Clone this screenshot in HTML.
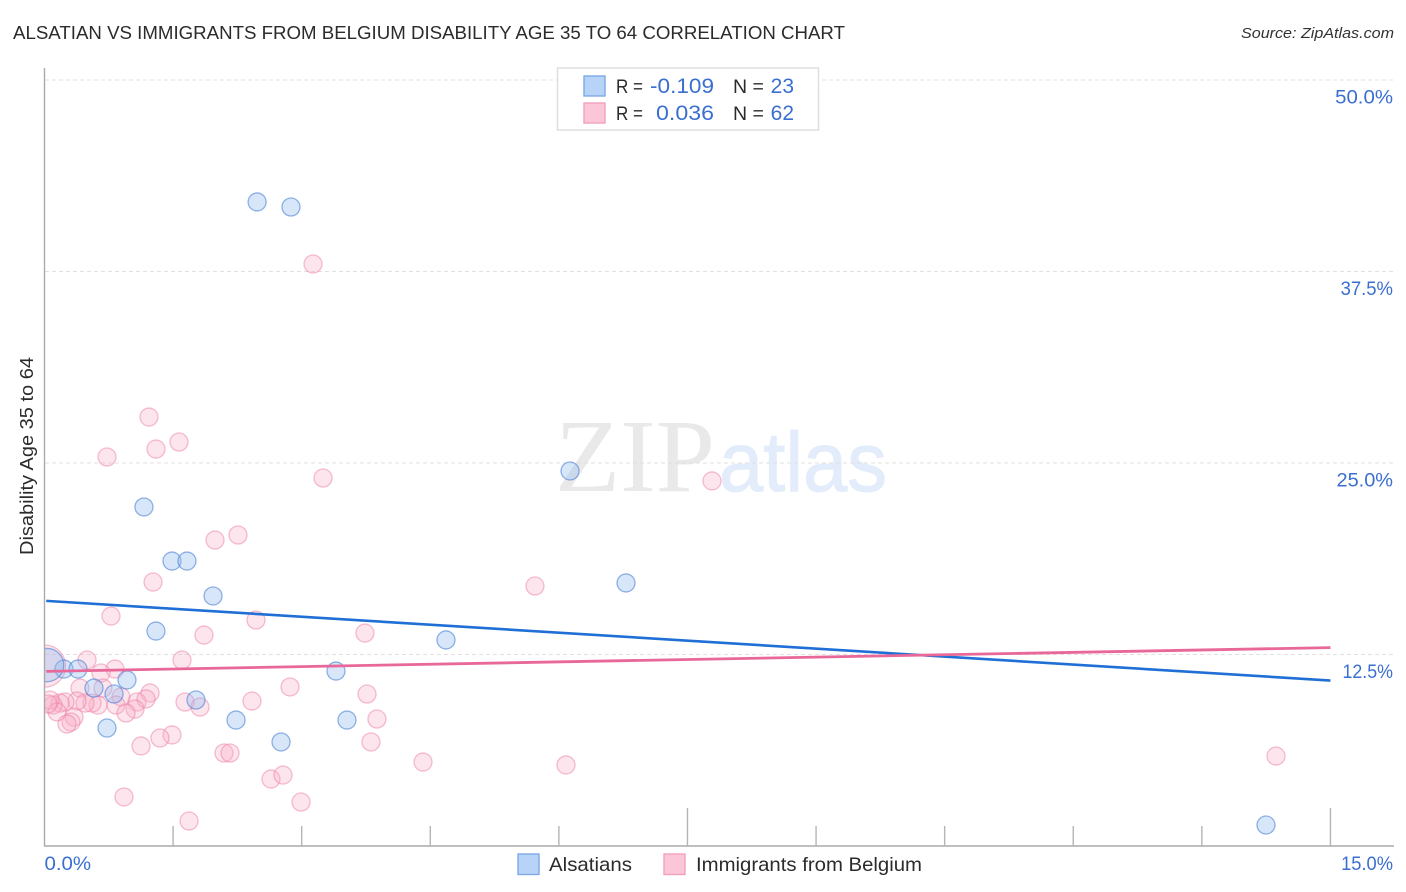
<!DOCTYPE html>
<html lang="en">
<head>
<meta charset="utf-8">
<title>Alsatian vs Immigrants from Belgium Disability Age 35 to 64 Correlation Chart</title>
<style>
html,body{margin:0;padding:0;background:#fff;width:1406px;height:892px;overflow:hidden}
svg{display:block;font-family:"Liberation Sans",sans-serif}
</style>
</head>
<body>
<svg id="chart" xmlns="http://www.w3.org/2000/svg" width="1406" height="892" viewBox="0 0 1406 892">
  <rect x="0" y="0" width="1406" height="892" fill="#ffffff"/>
  <text x="13" y="39" font-size="18.5" fill="#2b2b2b" textLength="832" lengthAdjust="spacingAndGlyphs">ALSATIAN VS IMMIGRANTS FROM BELGIUM DISABILITY AGE 35 TO 64 CORRELATION CHART</text>
  <text x="1241" y="38" font-size="15" font-style="italic" fill="#333333" textLength="153" lengthAdjust="spacingAndGlyphs">Source: ZipAtlas.com</text>

  <g>
    <text x="555" y="491" font-family="'Liberation Serif',serif" font-size="104" fill="#e9e9e9" textLength="160" lengthAdjust="spacingAndGlyphs">ZIP</text>
    <text x="719" y="491" font-size="84" fill="#e3ecfa" stroke="#e3ecfa" stroke-width="1" textLength="168" lengthAdjust="spacingAndGlyphs">atlas</text>
  </g>

  <g id="grid-layer"></g>
  <svg id="point-layer" x="45" y="60" width="1349" height="786" viewBox="45 60 1349 786" overflow="hidden"></svg>
  <g id="trend-layer"></g>

  <line x1="44.5" y1="68" x2="44.5" y2="846" stroke="#aaaaaa" stroke-width="1.4"/>
  <line x1="44" y1="846" x2="1394" y2="846" stroke="#aaaaaa" stroke-width="1.4"/>
  <g id="tick-layer"></g>
  <g id="label-layer"></g>

  <text transform="translate(33,456) rotate(-90)" text-anchor="middle" font-size="18" fill="#2b2b2b" textLength="198" lengthAdjust="spacingAndGlyphs">Disability Age 35 to 64</text>

  <g>
    <rect x="557.5" y="68" width="261" height="62" fill="#ffffff" stroke="#dddddd" stroke-width="1.4"/>
    <rect x="584" y="76" width="21" height="20" fill="#b8d3f8" stroke="#7eaae6" stroke-width="1.4"/>
    <rect x="584" y="103" width="21" height="20" fill="#fcc6d8" stroke="#f2a0bc" stroke-width="1.4"/>
    <text x="616" y="93" font-size="19.5" fill="#2b2b2b" textLength="27" lengthAdjust="spacingAndGlyphs">R =</text>
    <text x="714" y="93" font-size="21" fill="#3a6fd0" text-anchor="end" textLength="64" lengthAdjust="spacingAndGlyphs">-0.109</text>
    <text x="733" y="93" font-size="19.5" fill="#2b2b2b">N =</text>
    <text x="794" y="93" font-size="21" fill="#3a6fd0" text-anchor="end">23</text>
    <text x="616" y="120" font-size="19.5" fill="#2b2b2b" textLength="27" lengthAdjust="spacingAndGlyphs">R =</text>
    <text x="714" y="120" font-size="21" fill="#3a6fd0" text-anchor="end" textLength="58" lengthAdjust="spacingAndGlyphs">0.036</text>
    <text x="733" y="120" font-size="19.5" fill="#2b2b2b">N =</text>
    <text x="794" y="120" font-size="21" fill="#3a6fd0" text-anchor="end">62</text>
  </g>

  <g>
    <g>
      <rect x="518" y="854" width="21" height="20.5" fill="#b8d3f8" stroke="#7eaae6" stroke-width="1.4"/>
      <text x="549" y="871" font-size="19.5" fill="#2b2b2b" textLength="83" lengthAdjust="spacingAndGlyphs">Alsatians</text>
    </g>
    <g>
      <rect x="664" y="854" width="21" height="20.5" fill="#fcc6d8" stroke="#f2a0bc" stroke-width="1.4"/>
      <text x="696" y="871" font-size="19.5" fill="#2b2b2b" textLength="226" lengthAdjust="spacingAndGlyphs">Immigrants from Belgium</text>
    </g>
  </g>
</svg>

<script>
// Chart data (x = percent of immigrants, y = disability percent)
const alsatianX = [2.48,2.875,6.13,1.16,1.487,1.662,1.966,6.783,1.30,4.683,3.40,0.227,0.391,0.962,0.577,0.811,1.767,2.234,3.528,0.729,2.759,14.248,0.03];
const alsatianY = [42.04,41.71,24.48,22.13,18.60,18.60,16.32,17.17,14.03,13.45,11.42,11.55,11.55,10.84,10.31,9.92,9.53,8.22,8.22,7.70,6.79,1.37,11.81];
const alsatianWeight = [1,1,1,1,1,1,1,1,1,1,1,1,1,1,1,1,1,1,1,1,1,1,1.85];
const belgiumX = [3.132,1.219,1.569,1.301,0.729,3.249,7.786,2.257,1.989,1.266,5.721,0.776,2.467,1.860,3.738,0.496,1.604,0.822,0.659,2.864,3.762,0.414,0.682,1.231,0.892,1.079,1.184,1.639,1.814,0.834,1.056,0.951,0.624,0.554,0.472,0.379,0.239,0.181,0.099,0.064,0.146,0.344,0.309,0.262,2.420,1.487,1.347,1.126,2.094,2.164,2.642,2.782,0.927,1.686,2.992,3.878,3.808,4.415,6.083,14.365,0.04,0.0];
const belgiumY = [37.99,28.00,26.37,25.91,25.39,24.02,23.83,20.30,19.97,17.23,16.97,15.01,14.75,13.77,13.90,12.14,12.14,11.55,11.29,10.38,9.92,10.31,10.31,9.99,9.73,9.40,9.60,9.40,9.07,9.20,8.94,8.68,9.20,9.33,9.33,9.46,9.40,9.33,9.20,9.53,8.75,8.42,8.09,7.96,9.46,7.25,7.05,6.53,6.07,6.07,4.37,4.63,3.20,1.63,2.87,8.29,6.79,5.48,5.29,5.87,9.27,11.75];
const belgiumWeight = [1,1,1,1,1,1,1,1,1,1,1,1,1,1,1,1,1,1,1,1,1,1,1,1,1,1,1,1,1,1,1,1,1,1,1,1,1,1,1,1,1,1,1,1,1,1,1,1,1,1,1,1,1,1,1,1,1,1,1,1,1,2.35];
const alsatianTrend = [16.0,10.8];
const belgiumTrend = [11.4,12.95];
const trendRange = [0.02,15];
const yGridValues = [12.5,25,37.5,50];
const yTickLabels = ["12.5%","25.0%","37.5%","50.0%"];
const xTickValues = [1.5,3,4.5,6,7.5,9,10.5,12,13.5,15];
const xTickMajor = [false,false,false,false,true,false,false,false,false,true];
const xEndValues = [0,15];
const xEndLabels = ["0.0%","15.0%"];

const SVGNS = "http://www.w3.org/2000/svg";
function xScale(v){ return 44.5 + v * 85.73; }
function yScale(v){ return 846 - v * 15.32; }
function make(parent, tag, attrs){
  const el = document.createElementNS(SVGNS, tag);
  for (const k in attrs) el.setAttribute(k, attrs[k]);
  parent.appendChild(el);
  return el;
}
// Advance widths that mimic the proportional digits of the label typeface
const glyphWidth = {"0":12,"1":6,"2":10.6,"3":10,"5":11.4,"7":8.5,".":4.5,"%":18};
function labelWidth(s){
  let w = 0;
  for (const ch of s) w += glyphWidth[ch] || 11;
  return w;
}

const gridLayer = document.getElementById("grid-layer");
const tickLayer = document.getElementById("tick-layer");
const labelLayer = document.getElementById("label-layer");
const pointLayer = document.getElementById("point-layer");
const trendLayer = document.getElementById("trend-layer");

yGridValues.forEach(function(v, i){
  const g = make(gridLayer, "line", {x1:45, x2:1394, y1:yScale(v), y2:yScale(v), stroke:"#e0e0e0", "stroke-width":1, "stroke-dasharray":"4 3"});
  
  
  const t = make(labelLayer, "text", {x:1393, y:yScale(v)+23.5, "text-anchor":"end", "font-size":19.5, fill:"#3a6fd0", textLength:labelWidth(yTickLabels[i]), lengthAdjust:"spacingAndGlyphs"});
  
  
  t.textContent = yTickLabels[i];
});

xTickValues.forEach(function(v, i){
  const top = xTickMajor[i] ? 808 : 826;
  const l = make(tickLayer, "line", {x1:xScale(v), x2:xScale(v), y1:top, y2:846, stroke:"#b5b5b5", "stroke-width":1.4});
  
  
});

xEndValues.forEach(function(v, i){
  const t = make(labelLayer, "text", {x: i === 0 ? xScale(v) : 1393, y:870, "text-anchor": i === 0 ? "start" : "end", "font-size":19.5, fill:"#3a6fd0", textLength:labelWidth(xEndLabels[i]), lengthAdjust:"spacingAndGlyphs"});
  
  
  t.textContent = xEndLabels[i];
});

function drawBelgiumPoints(){
  belgiumX.forEach(function(v, i){
    const c = make(pointLayer, "circle", {cx:xScale(v), cy:yScale(belgiumY[i]), r:9*belgiumWeight[i], fill:"rgba(250,175,200,0.32)", stroke:"rgba(236,125,165,0.5)", "stroke-width":1.3});
    
    
  });
}
function drawAlsatianPoints(){
  alsatianX.forEach(function(v, i){
    const c = make(pointLayer, "circle", {cx:xScale(v), cy:yScale(alsatianY[i]), r:9*alsatianWeight[i], fill:"rgba(150,190,240,0.38)", stroke:"rgba(70,125,210,0.58)", "stroke-width":1.3});
    
    
  });
}
drawBelgiumPoints();
drawAlsatianPoints();

const blueLine = make(trendLayer, "line", {x1:xScale(trendRange[0]), x2:xScale(trendRange[1]), y1:yScale(alsatianTrend[0]), y2:yScale(alsatianTrend[1]), stroke:"#1f6fd6", "stroke-width":2.6});


const pinkLine = make(trendLayer, "line", {x1:xScale(trendRange[0]), x2:xScale(trendRange[1]), y1:yScale(belgiumTrend[0]), y2:yScale(belgiumTrend[1]), stroke:"#e8689a", "stroke-width":2.8});


</script>
</body>
</html>
